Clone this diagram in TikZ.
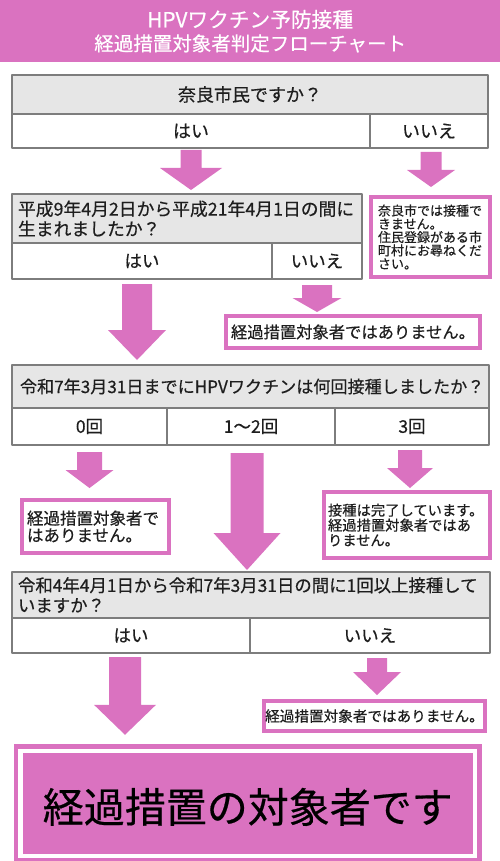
\documentclass[tikz,border=0pt]{standalone}
\usepackage{fontspec}
\setmainfont{Noto Sans CJK JP}[RawFeature={embolden=0.5}]
\usetikzlibrary{calc}
\definecolor{flowpink}{RGB}{218,114,192}
\definecolor{cellgray}{RGB}{230,230,230}
\definecolor{rulegray}{RGB}{125,125,125}
\definecolor{inkblack}{RGB}{30,30,30}
\newcommand\pinkarrow[5]{\fill[flowpink] let \p1=(#1), \p2=(#2) in
	(\x1-#3,\y1) -- (\x1+#3,\y1) -- (\x1+#3,\y2+#5) -- (\x1+#4,\y2+#5) -- (\x1,\y2) -- (\x1-#4,\y2+#5) -- (\x1-#3,\y2+#5) -- cycle;}
\begin{document}
\begin{tikzpicture}[x=1pt,y=-1pt,line join=round,
		qcell/.style={draw=rulegray,line width=1.2pt,fill=cellgray,outer sep=0pt,inner sep=0pt,anchor=north west,text=inkblack},
		acell/.style={draw=rulegray,line width=1.2pt,fill=white,outer sep=0pt,inner sep=0pt,anchor=north west,text=inkblack,font=\fontsize{17.5}{20}\selectfont},
		resbox/.style={draw=flowpink,line width=4pt,line join=miter,fill=white,inner sep=0pt,text=inkblack}]
	\useasboundingbox (0,0) rectangle (500,861);
	\node[fill=flowpink,minimum width=500pt,minimum height=62pt,anchor=north west,inner sep=0pt,text=white,align=center,font=\fontsize{19.5}{23.5}\selectfont] (title) at (0,0) {{\fontsize{20.7}{23.5}\selectfont HPVワクチン予防接種}\\経過措置対象者判定フローチャート};
	\node[qcell,minimum width=476pt,minimum height=39pt,font=\fontsize{18}{20}\selectfont] (q1) at (12,75) {奈良市民ですか？};
	\node[acell,minimum width=358pt,minimum height=34pt,font=\fontsize{18}{20}\selectfont] (q1yes) at (q1.south west) {はい};
	\node[acell,minimum width=118pt,minimum height=34pt,font=\fontsize{18}{20}\selectfont] (q1no) at (q1yes.north east) {いいえ};
	\node[resbox,minimum width=119pt,minimum height=80pt,text width=105pt,align=left,font=\fontsize{13}{13.3}\selectfont] (note) at (430.5,237) {奈良市では接種で\\きません。\\住民登録がある市\\町村にお尋ねくだ\\さい。};
	\node[qcell,minimum width=350pt,minimum height=49pt,inner xsep=6pt,text width=338pt,align=left,font=\fontsize{17.8}{20}\selectfont] (q2) at (12,194) {平成9年4月2日から平成21年4月1日の間に\\生まれましたか？};
	\node[acell,minimum width=260pt,minimum height=36pt] (q2yes) at (q2.south west) {はい};
	\node[acell,minimum width=90pt,minimum height=36pt] (q2no) at (q2yes.north east) {いいえ};
	\node[resbox,minimum width=254pt,minimum height=32pt,font=\fontsize{16.3}{18}\selectfont] (r2) at (353,332) {経過措置対象者ではありません。};
	\node[qcell,minimum width=477pt,minimum height=43pt,inner xsep=8pt,text width=461pt,align=left,font=\fontsize{17.1}{19}\selectfont] (q3) at (12,365) {令和7年3月31日までにHPVワクチンは何回接種しましたか？};
	\node[acell,minimum width=155pt,minimum height=37pt] (q3a) at (q3.south west) {0回};
	\node[acell,minimum width=168pt,minimum height=37pt] (q3b) at (q3a.north east) {1～2回};
	\node[acell,minimum width=154pt,minimum height=37pt] (q3c) at (q3b.north east) {3回};
	\node[resbox,minimum width=147pt,minimum height=53pt,text width=137pt,align=left,font=\fontsize{16.5}{17}\selectfont] (r3a) at (95.5,526.5) {経過措置対象者で\\はありません。};
	\node[resbox,minimum width=166pt,minimum height=66pt,text width=158pt,align=left,font=\fontsize{14.3}{15}\selectfont] (r3c) at (407,525) {接種は完了しています。\\経過措置対象者ではあ\\りません。};
	\node[qcell,minimum width=478pt,minimum height=46pt,inner xsep=6pt,text width=466pt,align=left,font=\fontsize{17.4}{20}\selectfont] (q4) at (12,572) {令和4年4月1日から令和7年3月31日の間に1回以上接種して\\いますか？};
	\node[acell,minimum width=238pt,minimum height=35pt] (q4yes) at (q4.south west) {はい};
	\node[acell,minimum width=240pt,minimum height=35pt] (q4no) at (q4yes.north east) {いいえ};
	\node[resbox,minimum width=221pt,minimum height=30pt,font=\fontsize{14.6}{16}\selectfont] (r4) at (374.5,716) {経過措置対象者ではありません。};
	\node[draw=flowpink,line width=4.3pt,line join=miter,double=white,double distance=4.4pt,fill=flowpink,outer sep=0pt,minimum width=454.5pt,minimum height=105.4pt,text height=38pt,text depth=0pt,font=\fontsize{41}{44}\selectfont,text=black] (goal) at (247.75,803.5) {経過措置の対象者です};
	\pinkarrow{$(q1yes.south)+(0,2)$}{$(q1yes.south |- q2.north)+(0,-4)$}{10.5pt}{31pt}{22pt}
	\pinkarrow{$(q1no.south)+(2,4)$}{$(q1no.south |- note.north)+(0,-8)$}{10.5pt}{24pt}{17pt}
	\pinkarrow{$(q2yes.south)+(-5,5)$}{$(q2yes.south |- q3.north)+(0,-5)$}{15pt}{29pt}{30pt}
	\pinkarrow{$(q2no.south)+(0,6)$}{$(q2no.south |- r2.north)+(0,-2)$}{15pt}{24.5pt}{14pt}
	\pinkarrow{$(q3a.south)+(0,7)$}{$(q3a.south |- r3a.north)+(0,-10)$}{12.5pt}{24pt}{18pt}
	\pinkarrow{$(q3b.south)+(-4,8)$}{$(q3b.south |- q4.north)+(0,-2)$}{16.5pt}{33.5pt}{37pt}
	\pinkarrow{$(q3c.south)+(-2,5)$}{$(q3c.south |- r3c.north)+(0,-2)$}{12pt}{23pt}{20pt}
	\pinkarrow{$(q4yes.south)+(-6,4)$}{$(q4yes.south |- goal.north)+(0,-16)$}{16pt}{31pt}{30pt}
	\pinkarrow{$(q4no.south)+(7,5)$}{$(q4no.south |- r4.north)+(0,-4)$}{10pt}{24pt}{23pt}
\end{tikzpicture}
\end{document}
